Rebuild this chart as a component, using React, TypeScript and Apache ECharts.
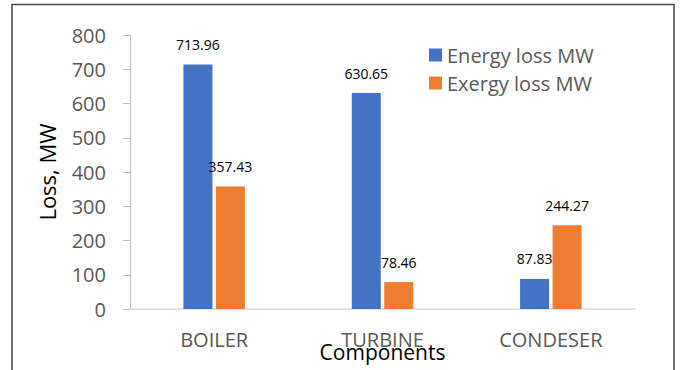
import React, { useEffect, useRef } from "react";
import * as echarts from "echarts";

const categories = ["BOILER", "TURBINE", "CONDESER"];
const energyLoss = [713.96, 630.65, 87.83];
const exergyLoss = [357.43, 78.46, 244.27];
const seriesNames = ["Energy loss MW", "Exergy loss MW"];
const yTicks = { min: 0, max: 800, interval: 100 };

export default function App() {
  const ref = useRef<HTMLDivElement>(null);
  useEffect(() => {
    document.body.style.margin = "0";
    const chart = echarts.init(ref.current!, null, { renderer: "svg" });
    const font = "'Open Sans', 'Noto Sans', sans-serif";
    const label = {
      show: true,
      position: "top",
      distance: 13,
      fontSize: 14,
      color: "#000",
      fontFamily: font,
    };
    chart.setOption({
      animation: false,
      backgroundColor: "#ffffff",
      textStyle: { fontFamily: font },
      grid: {
        left: 130,
        right: 45,
        top: 35,
        bottom: 61,
        containLabel: false,
        outerBoundsMode: "none",
      },
      legend: {
        orient: "vertical",
        left: 424,
        top: 40,
        itemWidth: 13,
        itemHeight: 13,
        itemGap: 8,
        icon: "rect",
        textStyle: { fontSize: 20, color: "#595959", fontFamily: font },
        data: seriesNames,
      },
      xAxis: {
        type: "category",
        data: categories,
        name: "Components",
        nameLocation: "middle",
        nameGap: 32,
        nameMoveOverlap: false,
        nameTextStyle: { fontSize: 21, color: "#000", fontFamily: font },
        axisLine: { show: true, lineStyle: { color: "#d9d9d9", width: 1.5 } },
        axisTick: { show: false },
        axisLabel: { fontSize: 20, color: "#595959", margin: 20, fontFamily: font },
      },
      yAxis: {
        type: "value",
        min: yTicks.min,
        max: yTicks.max,
        interval: yTicks.interval,
        name: "Loss, MW",
        nameLocation: "middle",
        nameGap: 72,
        nameMoveOverlap: false,
        nameTextStyle: { fontSize: 22, color: "#000", fontFamily: font },
        axisLine: { show: true, lineStyle: { color: "#bfbfbf", width: 1 } },
        axisTick: { show: true, length: 7, lineStyle: { color: "#bfbfbf" } },
        splitLine: { show: false },
        axisLabel: { fontSize: 20, color: "#595959", margin: 24, fontFamily: font },
      },
      series: [
        {
          name: seriesNames[0],
          type: "bar",
          data: energyLoss,
          barWidth: 29,
          barGap: "12%",
          itemStyle: { color: "#4472C4" },
          label,
        },
        {
          name: seriesNames[1],
          type: "bar",
          data: exergyLoss,
          barWidth: 29,
          barGap: "12%",
          itemStyle: { color: "#ED7D31" },
          label,
        },
      ],
      graphic: [
        {
          type: "rect",
          shape: { x: 12, y: 4.5, width: 662, height: 380 },
          style: { fill: "none", stroke: "#444", lineWidth: 1.5 },
          silent: true,
        },
      ],
    });
    return () => chart.dispose();
  }, []);
  return <div ref={ref} style={{ width: 680, height: 370, position: "fixed", left: 0, top: 0 }} />;
}
